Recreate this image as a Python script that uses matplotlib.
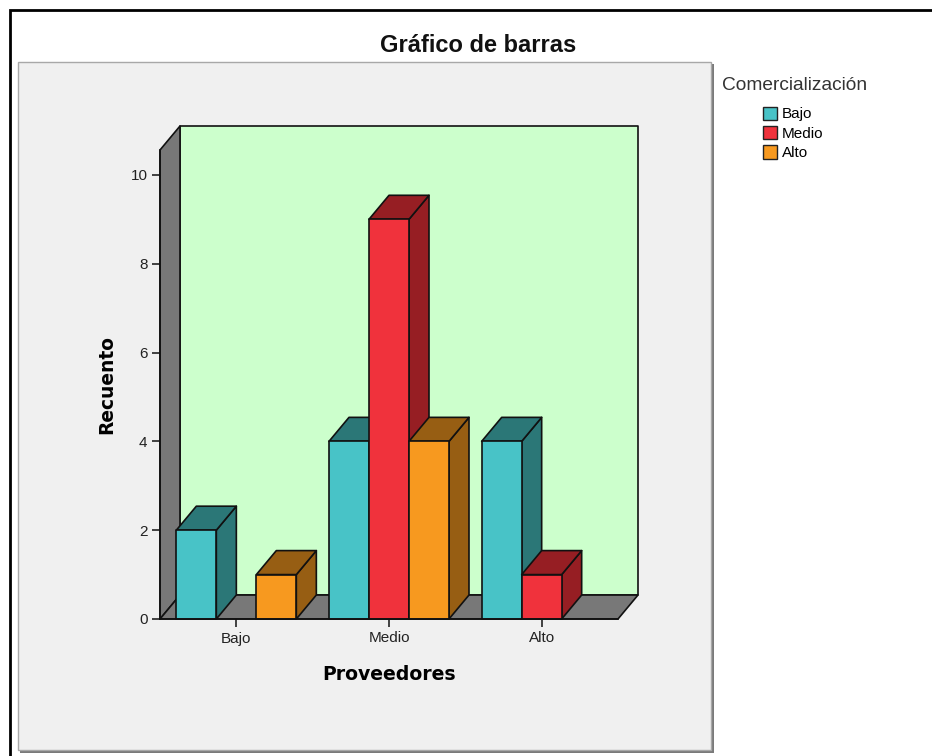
import matplotlib
matplotlib.use("Agg")
import matplotlib.pyplot as plt
from matplotlib.patches import Polygon, Rectangle, Patch

# Data: counts of "Comercialización" level per "Proveedores" category
categories = ["Bajo", "Medio", "Alto"]
series_names = ["Bajo", "Medio", "Alto"]
counts_bajo = [2, 4, 4]
counts_medio = [0, 9, 1]
counts_alto = [1, 4, 0]
y_ticks = [0, 2, 4, 6, 8, 10]

series_values = [counts_bajo, counts_medio, counts_alto]
front_colors = ["#48C3C7", "#F0323C", "#F7991F"]
shade_colors = ["#2B7777", "#961E23", "#975E13"]

W, H = 932, 756
fig = plt.figure(figsize=(W / 100, H / 100), dpi=100)
fig.patch.set_facecolor("white")


def fx(x):
    return x / W


def fy(y):
    return 1 - y / H


def fig_rect(x0, y0, x1, y1, **kw):
    r = Rectangle((fx(x0), fy(y1)), fx(x1) - fx(x0), fy(y0) - fy(y1),
                  transform=fig.transFigure, **kw)
    fig.add_artist(r)
    return r


# Outer frame and chart panel
fig_rect(10, 10, 960, 790, fill=False, edgecolor="black", lw=2.0, zorder=-3)
fig_rect(20, 64, 714, 753, facecolor="#7a7a7a", edgecolor="none", zorder=-2)
fig_rect(18, 62, 711, 750, facecolor="#f0f0f0", edgecolor="#a8a8a8", lw=1.0, zorder=-1)

# Front plane of the 3-D plot
ymax = 10.56
ax = fig.add_axes([fx(160), fy(619), 458 / W, (619 - 150) / H])
ax.set_zorder(5)
ax.set_xlim(-0.5, len(categories) - 0.5)
ax.set_ylim(0, ymax)
ax.patch.set_visible(False)

# depth offset of the pseudo-3D box (in data units)
ddx = 0.131
ddy = 0.54
x_lo, x_hi = -0.5, len(categories) - 0.5
edge = dict(edgecolor="#111111", linewidth=1.2, clip_on=False, joinstyle="round")

# back wall, left wall, floor
ax.add_patch(Polygon([(x_lo + ddx, ddy), (x_hi + ddx, ddy), (x_hi + ddx, ymax + ddy),
                      (x_lo + ddx, ymax + ddy)], facecolor="#CCFFCC", zorder=1, **edge))
ax.add_patch(Polygon([(x_lo, 0), (x_lo + ddx, ddy), (x_lo + ddx, ymax + ddy), (x_lo, ymax)],
                     facecolor="#787878", zorder=2, **edge))
ax.add_patch(Polygon([(x_lo, 0), (x_hi, 0), (x_hi + ddx, ddy), (x_lo + ddx, ddy)],
                     facecolor="#787878", zorder=2, **edge))

# 3-D bars, drawn left to right so nearer faces overlap correctly
bw = 0.262
z = 3
for i, cat in enumerate(categories):
    for j, vals in enumerate(series_values):
        v = vals[i]
        if v <= 0:
            continue
        x0 = i + (j - 1) * bw - bw / 2
        x1 = x0 + bw
        ax.add_patch(Polygon([(x1, 0), (x1 + ddx, ddy), (x1 + ddx, v + ddy), (x1, v)],
                             facecolor=shade_colors[j], zorder=z, **edge))
        ax.add_patch(Polygon([(x0, v), (x0 + ddx, v + ddy), (x1 + ddx, v + ddy), (x1, v)],
                             facecolor=shade_colors[j], zorder=z, **edge))
        ax.add_patch(Polygon([(x0, 0), (x1, 0), (x1, v), (x0, v)],
                             facecolor=front_colors[j], zorder=z, **edge))
        z += 1

# axes, ticks and labels
for s in ["top", "right"]:
    ax.spines[s].set_visible(False)
for s in ["left", "bottom"]:
    ax.spines[s].set_color("#111111")
    ax.spines[s].set_linewidth(1.2)
    ax.spines[s].set_zorder(50)
ax.spines["left"].set_bounds(0, ymax)

ax.set_xticks(range(len(categories)))
ax.set_xticklabels(categories)
ax.set_yticks(y_ticks)
ax.set_yticklabels([str(t) for t in y_ticks])
ax.tick_params(axis="both", direction="out", length=6, width=1.1, color="#111111",
               labelsize=11, labelcolor="#222222", pad=3)
for lab in ax.get_xticklabels() + ax.get_yticklabels():
    lab.set_family("Liberation Sans")

ax.set_xlabel("Proveedores", fontsize=13.6, fontweight="bold", family="DejaVu Sans")
ax.xaxis.set_label_coords(0.5, (619 - 675) / 469)
ax.xaxis.label.set_va("center")
ax.set_ylabel("Recuento", fontsize=13.4, fontweight="bold", family="DejaVu Sans")
ax.yaxis.set_label_coords((107 - 160) / 458, 0.5)
ax.yaxis.label.set_va("center")

fig.text(fx(478), fy(45), "Gráfico de barras", ha="center", va="center",
         fontsize=17, fontweight="bold", family="Liberation Sans", color="#111111")

# legend
fig.text(fx(722), fy(85), "Comercialización", ha="left", va="center",
         fontsize=13.8, family="Liberation Sans", color="#333333")
handles = [Patch(facecolor=c, edgecolor="#222222", linewidth=1.0) for c in front_colors]
fig.legend(handles, series_names, loc="upper left", bbox_to_anchor=(fx(758), fy(102)),
           frameon=False, prop={"family": "Liberation Sans", "size": 11},
           handlelength=0.95, handleheight=0.95, handletextpad=0.3, labelspacing=0.3,
           borderaxespad=0, borderpad=0.3)

fig.savefig("out.png", dpi=100, facecolor="white")
